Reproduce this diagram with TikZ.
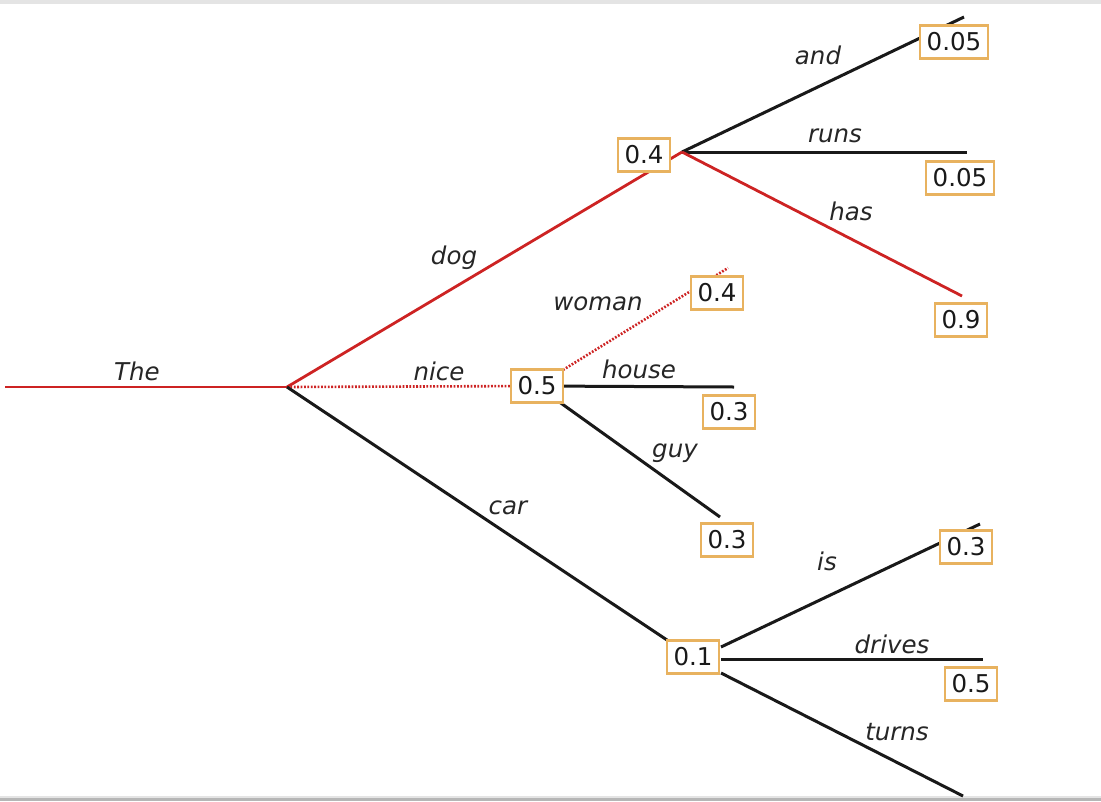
\documentclass[tikz,border=0pt]{standalone}
\usepackage{fontspec}
\setmainfont{DejaVu Sans}
\begin{document}
\begin{tikzpicture}[x=1pt,y=-1pt,
  edge/.style={line width=3pt,draw=black!90},
  redge/.style={line width=2.8pt,draw=myred},
  dotedge/.style={line width=2.6pt,draw=myred,dash pattern=on 1.8pt off 1.6pt},
  prob/.style={draw=myorange,line width=2.2pt,fill=white,inner xsep=6.5pt,inner ysep=0pt,minimum height=33pt,font=\fontsize{24.5}{28}\selectfont,text=black!90},
  lab/.style={anchor=base,font=\fontsize{24.5}{28}\selectfont\itshape,text=black!85}]
\definecolor{myred}{RGB}{205,35,35}
\definecolor{myorange}{RGB}{232,178,95}
\definecolor{barlight}{RGB}{228,228,228}
\definecolor{bardark}{RGB}{182,182,182}
\useasboundingbox (0,0) rectangle (1101,801);
\fill[barlight] (0,0) rectangle (1101,3.5);
\fill[barlight] (0,795.5) rectangle (1101,798);
\fill[bardark] (0,798) rectangle (1101,801);
% junction points and free ends
\coordinate (start) at (5,387);
\coordinate (j0) at (287,387);
\coordinate (jdog) at (682,152);
\coordinate (jnice) at (537,386);
\coordinate (jis) at (721,647);
\coordinate (jdrives) at (721,659);
\coordinate (jturns) at (721,673);
\coordinate (eand) at (964,17);
\coordinate (eruns) at (967,152);
\coordinate (ehas) at (962,296);
\coordinate (ewoman) at (728,268);
\coordinate (ehouse) at (734,387);
\coordinate (eguy) at (720,517);
\coordinate (ecar) at (667,640);
\coordinate (eis) at (980,524);
\coordinate (edrives) at (983,659);
\coordinate (eturns) at (963,796);
% edges
\draw[redge] (start) -- (j0);
\draw[redge] (j0) -- (jdog);
\draw[dotedge] (j0) -- (jnice);
\draw[edge] (j0) -- (ecar);
\draw[edge] (jdog) -- (eand);
\draw[edge] (jdog) -- (eruns);
\draw[redge] (jdog) -- (ehas);
\draw[dotedge] (jnice) -- (ewoman);
\draw[edge] (jnice) -- (ehouse);
\draw[edge] (jnice) -- (eguy);
\draw[edge] (jis) -- (eis);
\draw[edge] (jdrives) -- (edrives);
\draw[edge] (jturns) -- (eturns);
% probability boxes
\node[prob] (pdog) at (644,155) {0.4};
\node[prob] (pand) at (954,42) {0.05};
\node[prob] (pruns) at (960,178) {0.05};
\node[prob] (phas) at (961,320) {0.9};
\node[prob] (pnice) at (537,386) {0.5};
\node[prob] (pwoman) at (717,293) {0.4};
\node[prob] (phouse) at (729,412) {0.3};
\node[prob] (pguy) at (727,540) {0.3};
\node[prob] (pcar) at (693,657) {0.1};
\node[prob] (pis) at (966,547) {0.3};
\node[prob] (pdrives) at (971,684) {0.5};
% word labels
\node[lab] (lthe) at (137,380) {The};
\node[lab] (ldog) at (454,264) {dog};
\node[lab] (lnice) at (439,380) {nice};
\node[lab] (lcar) at (508,514) {car};
\node[lab] (land) at (818,64) {and};
\node[lab] (lruns) at (835,142) {runs};
\node[lab] (lhas) at (851,220) {has};
\node[lab] (lwoman) at (598,310) {woman};
\node[lab] (lhouse) at (639,378) {house};
\node[lab] (lguy) at (675,457) {guy};
\node[lab] (lis) at (827,570) {is};
\node[lab] (ldrives) at (892,653) {drives};
\node[lab] (lturns) at (897,740) {turns};
\end{tikzpicture}
\end{document}
